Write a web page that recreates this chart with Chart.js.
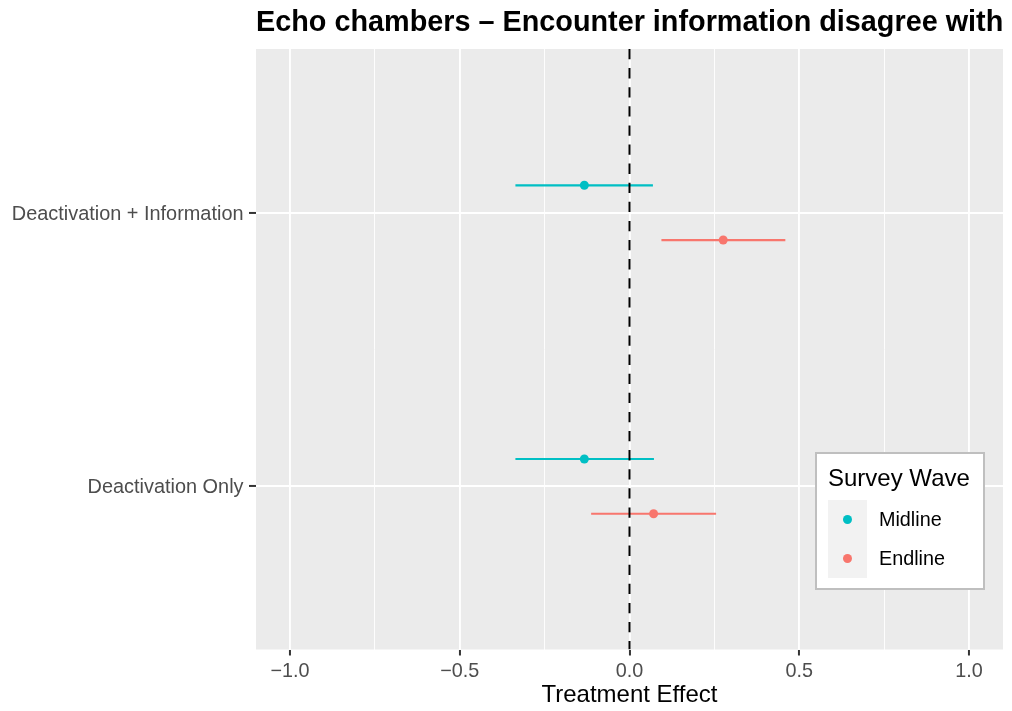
<!DOCTYPE html>
<html>
<head>
<meta charset="utf-8">
<script src="https://cdn.jsdelivr.net/npm/chart.js@4.4.0/dist/chart.umd.min.js"></script>
<style>
  html, body { margin: 0; padding: 0; background: #ffffff; }
  #wrap { width: 1012px; height: 711px; }
</style>
</head>
<body>
<div id="wrap"><canvas id="c" width="1012" height="711"></canvas></div>
<script>
// ---- data ----
const chartTitle = 'Echo chambers \u2013 Encounter information disagree with';
const xTitle = 'Treatment Effect';
const legendTitle = 'Survey Wave';
const categories = ['Deactivation Only', 'Deactivation + Information'];
const waves = ['Midline', 'Endline'];
const midlineEst = [-0.133, -0.133];
const midlineLo  = [-0.336, -0.336];
const midlineHi  = [0.072, 0.069];
const endlineEst = [0.071, 0.276];
const endlineLo  = [-0.113, 0.094];
const endlineHi  = [0.255, 0.459];
const xMajorTicks = [-1.0, -0.5, 0.0, 0.5, 1.0];
const xMinorTicks = [-0.75, -0.25, 0.25, 0.75];
const refLineX = 0;

// ---- style / layout ----
const colors = { Midline: '#00BFC4', Endline: '#F8766D' };
const dodge = { Midline: 0.1, Endline: -0.1 };
const X_MIN = -1.1, X_MAX = 1.1, Y_MIN = 0.404, Y_MAX = 2.598;
const FONT = '"Liberation Sans", Arial, Helvetica, sans-serif';

function pointsFor(wave, est) {
  return est.map((v, i) => ({ x: v, y: i + 1 + dodge[wave] }));
}
function barsFor(wave, lo, hi) {
  const out = [];
  lo.forEach((v, i) => {
    const y = i + 1 + dodge[wave];
    out.push({ x: v, y: y }, { x: hi[i], y: y }, { x: null, y: null });
  });
  return out;
}

const datasets = [
  { label: 'Midline', data: pointsFor('Midline', midlineEst), showLine: false,
    pointRadius: 4.5, pointBackgroundColor: colors.Midline, pointBorderWidth: 0, pointHoverRadius: 4.5 },
  { label: 'Endline', data: pointsFor('Endline', endlineEst), showLine: false,
    pointRadius: 4.5, pointBackgroundColor: colors.Endline, pointBorderWidth: 0, pointHoverRadius: 4.5 },
  { label: 'ref', data: [{ x: refLineX, y: Y_MAX }, { x: refLineX, y: Y_MIN }], showLine: true,
    borderColor: '#000000', borderWidth: 2, borderDash: [10.3, 8.8], pointRadius: 0, fill: false },
  { label: 'MidlineCI', data: barsFor('Midline', midlineLo, midlineHi), showLine: true, spanGaps: false,
    borderColor: colors.Midline, borderWidth: 2.2, pointRadius: 0, fill: false },
  { label: 'EndlineCI', data: barsFor('Endline', endlineLo, endlineHi), showLine: true, spanGaps: false,
    borderColor: colors.Endline, borderWidth: 2.2, pointRadius: 0, fill: false },
];

const majorSet = new Set(xMajorTicks.map(v => v.toFixed(2)));
const isMajor = v => majorSet.has(Number(v).toFixed(2));

const bgPlugin = {
  id: 'panelBg',
  beforeDraw(chart) {
    const { ctx, chartArea: a } = chart;
    ctx.save();
    ctx.fillStyle = '#ffffff';
    ctx.fillRect(0, 0, chart.width, chart.height);
    ctx.fillStyle = '#ebebeb';
    ctx.fillRect(a.left, a.top, a.right - a.left, a.bottom - a.top);
    ctx.restore();
  }
};

const titlePlugin = {
  id: 'ggTitle',
  afterDraw(chart) {
    const { ctx, chartArea: a } = chart;
    ctx.save();
    ctx.font = 'bold 28.8px ' + FONT;
    ctx.fillStyle = '#000000';
    ctx.textAlign = 'left';
    ctx.textBaseline = 'alphabetic';
    ctx.fillText(chartTitle, a.left, 31);
    ctx.restore();
  }
};

const legendPlugin = {
  id: 'ggLegend',
  afterDraw(chart) {
    const { ctx } = chart;
    const bx = 816, by = 453, bw = 168, bh = 136;
    ctx.save();
    ctx.fillStyle = '#ffffff';
    ctx.fillRect(bx, by, bw, bh);
    ctx.strokeStyle = '#bfbfbf';
    ctx.lineWidth = 2;
    ctx.strokeRect(bx, by, bw, bh);
    ctx.fillStyle = '#000000';
    ctx.font = '24px ' + FONT;
    ctx.textAlign = 'left';
    ctx.textBaseline = 'alphabetic';
    ctx.fillText(legendTitle, 828, 485.7);
    const keyX = 828, keyY = 500, keyW = 39, keyH = 39;
    waves.forEach((w, i) => {
      ctx.fillStyle = '#f2f2f2';
      ctx.fillRect(keyX, keyY + i * keyH, keyW, keyH);
    });
    waves.forEach((w, i) => {
      const cy = keyY + i * keyH + keyH / 2;
      ctx.fillStyle = colors[w];
      ctx.beginPath();
      ctx.arc(keyX + keyW / 2, cy, 4.5, 0, Math.PI * 2);
      ctx.fill();
      ctx.fillStyle = '#000000';
      ctx.font = '19.8px ' + FONT;
      ctx.textBaseline = 'middle';
      ctx.fillText(w, 879, cy + 1);
    });
    ctx.restore();
  }
};

new Chart(document.getElementById('c'), {
  type: 'scatter',
  data: { datasets },
  plugins: [bgPlugin, titlePlugin, legendPlugin],
  options: {
    responsive: false,
    animation: false,
    devicePixelRatio: 1,
    layout: { padding: { top: 49, right: 9, left: 0, bottom: 0 } },
    plugins: { legend: { display: false }, tooltip: { enabled: false }, title: { display: false } },
    scales: {
      x: {
        type: 'linear', min: X_MIN, max: X_MAX,
        afterBuildTicks(scale) {
          scale.ticks = xMajorTicks.concat(xMinorTicks).sort((a, b) => a - b).map(v => ({ value: v }));
        },
        afterFit(scale) { scale.height = 61.5; },
        border: { display: false },
        grid: {
          color: '#ffffff',
          lineWidth: ctx => (ctx.tick && isMajor(ctx.tick.value)) ? 1.9 : 0.9,
          tickColor: ctx => (ctx.tick && isMajor(ctx.tick.value)) ? '#333333' : 'rgba(0,0,0,0)',
          tickWidth: 2,
          tickLength: 6,
          drawTicks: true,
        },
        ticks: {
          autoSkip: false, maxRotation: 0, padding: 4.5,
          color: '#4d4d4d', font: { family: FONT, size: 19.8 },
          callback: v => isMajor(v) ? Number(v).toFixed(1).replace('-', '\u2212') : ''
        },
        title: { display: true, text: xTitle, color: '#000000',
                 font: { family: FONT, size: 24 }, padding: { top: 0, bottom: 1.5 } }
      },
      y: {
        type: 'linear', min: Y_MIN, max: Y_MAX,
        afterBuildTicks(scale) {
          scale.ticks = categories.map((c, i) => ({ value: i + 1 }));
        },
        afterFit(scale) { scale.width = 256; },
        border: { display: false },
        grid: {
          color: '#ffffff', lineWidth: 1.9,
          tickColor: '#333333', tickWidth: 2, tickLength: 7, drawTicks: true,
        },
        ticks: {
          autoSkip: false, padding: 5.5, labelOffset: 1.5,
          color: '#4d4d4d', font: { family: FONT, size: 19.9 },
          callback: v => categories[Math.round(v) - 1] || ''
        }
      }
    }
  }
});
</script>
</body>
</html>
